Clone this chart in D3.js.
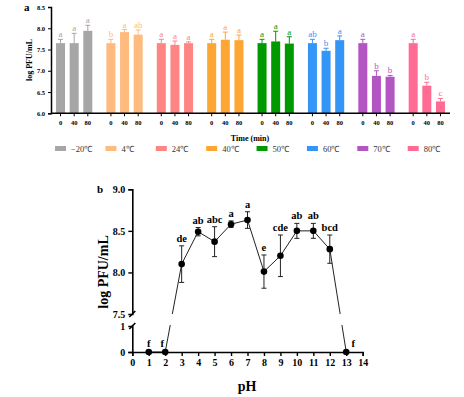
<!DOCTYPE html>
<html>
<head>
<meta charset="utf-8">
<script src="https://cdn.jsdelivr.net/npm/d3@7"></script>
<style>
  body { margin: 0; background: #fff; }
  svg { display: block; font-family: "Liberation Serif", "Times New Roman", serif; }
</style>
</head>
<body>
<svg id="chart" width="464" height="397"></svg>
<script>
// ---- panel a data ----
var temps = ["−20℃", "4℃", "24℃", "40℃", "50℃", "60℃", "70℃", "80℃"];
var times = ["0", "40", "80"];
var tempColors = ["#a6a6a6", "#ffba7e", "#ff8585", "#ffa533", "#009a00", "#3395f5", "#b455c4", "#ff6b92"];
var meanA = [
  [7.65, 7.65, 7.94],
  [7.65, 7.91, 7.85],
  [7.65, 7.61, 7.65],
  [7.65, 7.73, 7.72],
  [7.65, 7.69, 7.64],
  [7.65, 7.47, 7.72],
  [7.65, 6.88, 6.86],
  [7.65, 6.65, 6.28]
];
var sdA = [
  [0.09, 0.23, 0.13],
  [0.09, 0.06, 0.11],
  [0.09, 0.09, 0.03],
  [0.09, 0.18, 0.12],
  [0.09, 0.24, 0.16],
  [0.09, 0.06, 0.10],
  [0.09, 0.12, 0.03],
  [0.09, 0.08, 0.07]
];
var lettersA = [
  ["a", "a", "a"],
  ["b", "a", "ab"],
  ["a", "a", "a"],
  ["a", "a", "a"],
  ["a", "a", "a"],
  ["ab", "b", "a"],
  ["a", "b", "b"],
  ["a", "b", "c"]
];
var yTicksA = [6.0, 6.5, 7.0, 7.5, 8.0, 8.5];

// ---- panel b data ----
var pH = [1, 2, 3, 4, 5, 6, 7, 8, 9, 10, 11, 12, 13];
var meanB = [0, 0, 8.10, 8.49, 8.37, 8.58, 8.63, 8.01, 8.20, 8.50, 8.50, 8.28, 0];
var sdB = [0, 0, 0.22, 0.05, 0.18, 0.04, 0.10, 0.20, 0.25, 0.09, 0.09, 0.17, 0];
var lettersB = ["f", "f", "de", "ab", "abc", "a", "a", "e", "cde", "ab", "ab", "bcd", "f"];
var xTicksB = d3.range(0, 15);
var yTicksHigh = [7.5, 8.0, 8.5, 9.0];
var yTicksLow = [0, 1];

var svg = d3.select("#chart");

// ================= panel a =================
var a = svg.append("g");
var ya = d3.scaleLinear().domain([6.0, 8.5]).range([113.3, 7]);
var xg = d3.scaleBand().domain(temps).range([51, 450]).paddingInner(0.28).paddingOuter(0.1);
var xt = d3.scaleBand().domain(times).range([0, xg.bandwidth()]).paddingInner(0.34).paddingOuter(0);

var bars = [];
temps.forEach(function(t, g) {
  times.forEach(function(m, i) {
    bars.push({ temp: t, time: m, g: g, v: meanA[g][i], sd: sdA[g][i], lab: lettersA[g][i] });
  });
});
function bx(d) { return xg(d.temp) + xt(d.time); }

a.selectAll(".bar").data(bars).enter().append("rect")
  .attr("x", bx)
  .attr("y", function(d) { return ya(d.v); })
  .attr("width", xt.bandwidth())
  .attr("height", function(d) { return ya(6.0) - ya(d.v); })
  .attr("fill", function(d) { return tempColors[d.g]; });

// upper error bars
var eb = a.selectAll(".err").data(bars).enter().append("g")
  .attr("stroke", function(d) { return tempColors[d.g]; })
  .attr("stroke-width", 1);
eb.append("line")
  .attr("x1", function(d) { return bx(d) + xt.bandwidth() / 2; })
  .attr("x2", function(d) { return bx(d) + xt.bandwidth() / 2; })
  .attr("y1", function(d) { return ya(d.v); })
  .attr("y2", function(d) { return ya(d.v + d.sd); });
eb.append("line")
  .attr("x1", function(d) { return bx(d) + xt.bandwidth() / 2 - 2.5; })
  .attr("x2", function(d) { return bx(d) + xt.bandwidth() / 2 + 2.5; })
  .attr("y1", function(d) { return ya(d.v + d.sd); })
  .attr("y2", function(d) { return ya(d.v + d.sd); });

a.selectAll(".lab").data(bars).enter().append("text")
  .attr("x", function(d) { return bx(d) + xt.bandwidth() / 2; })
  .attr("y", function(d) { return ya(d.v + d.sd) - 2; })
  .attr("text-anchor", "middle")
  .attr("font-size", 9)
  .attr("fill", function(d) { return tempColors[d.g]; })
  .text(function(d) { return d.lab; });

// y axis
var yAxA = a.append("g").attr("transform", "translate(51,0)")
  .call(d3.axisLeft(ya).tickValues(yTicksA).tickFormat(d3.format(".1f")).tickSize(3));
yAxA.select(".domain").attr("stroke-width", 1.5);
yAxA.selectAll("text").attr("font-size", 6.5).attr("font-weight", "bold").attr("font-family", "Liberation Serif");

// x axis with ticks at each bar
var xAxA = a.append("g").attr("transform", "translate(0," + ya(6.0) + ")");
xAxA.append("line").attr("x1", 51).attr("x2", 450).attr("stroke", "#000").attr("stroke-width", 1.5);
var tk = xAxA.selectAll(".tk").data(bars).enter().append("g")
  .attr("transform", function(d) { return "translate(" + (bx(d) + xt.bandwidth() / 2) + ",0)"; });
tk.append("line").attr("y2", 3).attr("stroke", "#000");
tk.append("text").attr("y", 12).attr("text-anchor", "middle")
  .attr("font-size", 6.5).attr("font-weight", "bold")
  .text(function(d) { return d.time; });

a.append("text").attr("x", 250).attr("y", 141).attr("text-anchor", "middle")
  .attr("font-size", 8).attr("font-weight", "bold").text("Time (min)");
a.append("text").attr("transform", "translate(32,60) rotate(-90)").attr("text-anchor", "middle")
  .attr("font-size", 8).attr("font-weight", "bold").text("log PFU/mL");
a.append("text").attr("x", 24).attr("y", 11).attr("font-size", 11).attr("font-weight", "bold").text("a");

// legend
var lg = a.selectAll(".lg").data(temps).enter().append("g")
  .attr("transform", function(d) { return "translate(" + (xg(d) - 1) + ",147)"; });
lg.append("rect").attr("width", 11).attr("height", 5).attr("y", -1)
  .attr("fill", function(d, i) { return tempColors[i]; });
lg.append("text").attr("x", 16).attr("y", 4.5).attr("font-size", 8.5).attr("fill", "#333")
  .text(function(d) { return d; });

// ================= panel b =================
var b = svg.append("g");
var xb = d3.scaleLinear().domain([0, 14]).range([132.3, 362.7]);
var yHi = d3.scaleLinear().domain([7.5, 9.0]).range([314, 189.3]);
var yLo = d3.scaleLinear().domain([0, 1]).range([352, 326]);
function yb(v) { return v >= 7.5 ? yHi(v) : yLo(v); }

var pts = pH.map(function(p, i) { return { x: p, v: meanB[i], sd: sdB[i], lab: lettersB[i] }; });

// clip the connecting line so it skips the axis break
var defs = svg.append("defs");
var cp = defs.append("clipPath").attr("id", "brk");
cp.append("rect").attr("x", 0).attr("y", 0).attr("width", 464).attr("height", yHi(7.5));
cp.append("rect").attr("x", 0).attr("y", yLo(1) - 1).attr("width", 464).attr("height", 100);

b.append("path").datum(pts)
  .attr("clip-path", "url(#brk)")
  .attr("fill", "none").attr("stroke", "#222").attr("stroke-width", 1)
  .attr("d", d3.line().x(function(d) { return xb(d.x); }).y(function(d) { return yb(d.v); }));

var ebB = b.selectAll(".eb").data(pts.filter(function(d) { return d.sd > 0; })).enter().append("g")
  .attr("stroke", "#222").attr("stroke-width", 1);
ebB.append("line")
  .attr("x1", function(d) { return xb(d.x); }).attr("x2", function(d) { return xb(d.x); })
  .attr("y1", function(d) { return yb(d.v + d.sd); }).attr("y2", function(d) { return yb(d.v - d.sd); });
ebB.append("line")
  .attr("x1", function(d) { return xb(d.x) - 2.5; }).attr("x2", function(d) { return xb(d.x) + 2.5; })
  .attr("y1", function(d) { return yb(d.v + d.sd); }).attr("y2", function(d) { return yb(d.v + d.sd); });
ebB.append("line")
  .attr("x1", function(d) { return xb(d.x) - 2.5; }).attr("x2", function(d) { return xb(d.x) + 2.5; })
  .attr("y1", function(d) { return yb(d.v - d.sd); }).attr("y2", function(d) { return yb(d.v - d.sd); });

// x axis
var xAxB = b.append("g").attr("transform", "translate(0," + yLo(0) + ")")
  .call(d3.axisBottom(xb).tickValues(xTicksB).tickSize(4).tickPadding(3));
xAxB.select(".domain").attr("stroke-width", 1.6);
xAxB.selectAll(".tick line").attr("stroke-width", 1.4);
xAxB.selectAll("text").attr("font-size", 10).attr("font-weight", "bold").attr("font-family", "Liberation Serif");

b.selectAll(".dot").data(pts).enter().append("circle")
  .attr("cx", function(d) { return xb(d.x); })
  .attr("cy", function(d) { return yb(d.v); })
  .attr("r", 3.3).attr("fill", "#000");

b.selectAll(".labB").data(pts).enter().append("text")
  .attr("x", function(d) { return xb(d.x) + (d.x === 2 ? -3 : d.x === 13 ? 7 : 0); })
  .attr("y", function(d) { return d.sd > 0 ? yb(d.v + d.sd) - 4 : yb(d.v) - 5; })
  .attr("text-anchor", "middle")
  .attr("font-size", 10.5).attr("font-weight", "bold")
  .text(function(d) { return d.lab; });

// broken y axis
var yAxHi = b.append("g").attr("transform", "translate(" + xb(0) + ",0)")
  .call(d3.axisLeft(yHi).tickValues(yTicksHigh).tickFormat(d3.format(".1f")).tickSize(4));
yAxHi.select(".domain").attr("stroke-width", 1.6);
yAxHi.selectAll(".tick line").attr("stroke-width", 1.4).filter(function(d) { return d === 7.5; }).remove();
yAxHi.selectAll("text").attr("font-size", 10).attr("font-weight", "bold").attr("font-family", "Liberation Serif");

var yAxLo = b.append("g").attr("transform", "translate(" + xb(0) + ",0)")
  .call(d3.axisLeft(yLo).tickValues(yTicksLow).tickFormat(d3.format("d")).tickSize(4));
yAxLo.select(".domain").attr("stroke-width", 1.6);
yAxLo.selectAll(".tick line").attr("stroke-width", 1.4).filter(function(d) { return d === 1; }).remove();
yAxLo.selectAll("text").attr("font-size", 10).attr("font-weight", "bold").attr("font-family", "Liberation Serif");

// break slashes
[yHi(7.5), yLo(1)].forEach(function(yy) {
  b.append("line").attr("x1", xb(0) - 3).attr("x2", xb(0) + 3)
    .attr("y1", yy + 3).attr("y2", yy - 3)
    .attr("stroke", "#000").attr("stroke-width", 1.6);
});

b.append("text").attr("transform", "translate(108,272) rotate(-90)").attr("text-anchor", "middle")
  .attr("font-size", 14).attr("font-weight", "bold").text("log PFU/mL");
b.append("text").attr("x", 247).attr("y", 391).attr("text-anchor", "middle")
  .attr("font-size", 14).attr("font-weight", "bold").text("pH");
b.append("text").attr("x", 97).attr("y", 193).attr("font-size", 11).attr("font-weight", "bold").text("b");
</script>
</body>
</html>
